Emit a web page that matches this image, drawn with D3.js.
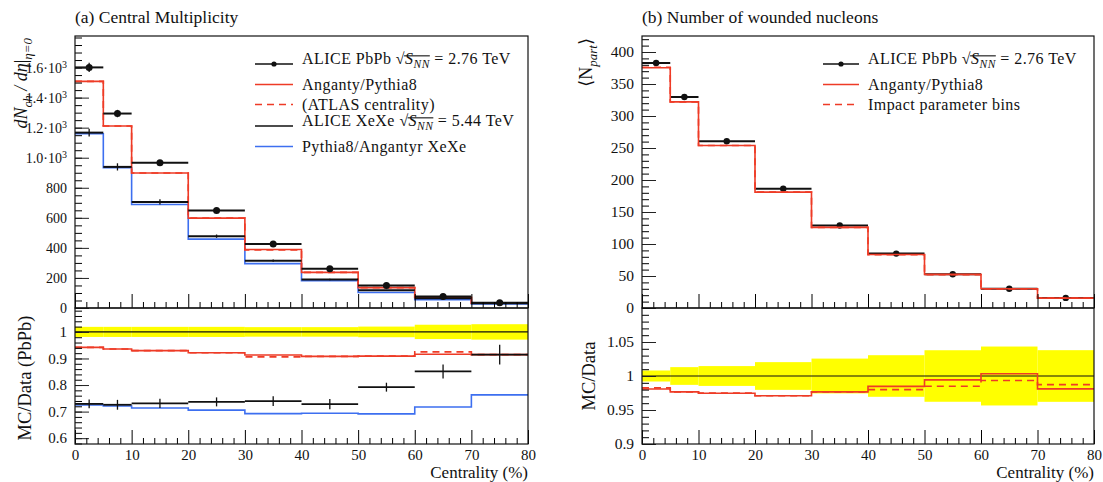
<!DOCTYPE html>
<html>
<head>
<meta charset="utf-8">
<script src="https://d3js.org/d3.v7.min.js"></script>
<style>
body { margin: 0; background: #fff; }
svg text { font-family: "Liberation Serif", "DejaVu Serif", serif; fill: #111; }
</style>
</head>
<body>
<script>
// centrality bins (%)
const binEdges = [0, 5, 10, 20, 30, 40, 50, 60, 70, 80];
const xTickValues = [0, 10, 20, 30, 40, 50, 60, 70, 80];

// (a) charged multiplicity dN/deta
const pbpbMult = [1601, 1294, 966, 649, 426, 261, 149, 76, 35];
const pbpbMultRelErr = [0.019, 0.019, 0.019, 0.019, 0.018, 0.018, 0.02, 0.027, 0.029];
const angMult = [1508, 1211, 898, 598, 389, 237, 135.4, 69.6, 32];
const angMultAtlas = [1508, 1211, 898, 598, 386, 237, 135.4, 70.3, 32];
const xexeMult = [1167, 939, 706, 478, 315, 190, 118, 64.7, 32];
const xexeMultErr = [26, 24, 17, 11, 8, 5, 2.5, 2, 1.3];
const angXeXeMult = [1160, 933, 689, 458, 295, 181, 103, 54.5, 26.7];
const multTicks = [0, 200, 400, 600, 800, 1000, 1200, 1400, 1600];
const ratioTicksA = [0.6, 0.7, 0.8, 0.9, 1];

// (b) number of wounded nucleons
const npartData = [382.8, 329.7, 260.5, 186.4, 128.9, 85.0, 52.8, 30.0, 15.8];
const npartErr = [3.1, 4.3, 3.8, 3.8, 3.3, 2.6, 2.0, 1.3, 0.6];
const npartAng = [375.5, 322.0, 253.9, 181.0, 125.9, 83.7, 52.5, 30.1, 15.5];
const npartImpact = [376.1, 322.0, 254.0, 181.0, 125.9, 83.3, 52.0, 29.8, 15.6];
const npartTicks = [0, 50, 100, 150, 200, 250, 300, 350, 400];
const ratioTicksB = [0.9, 0.95, 1, 1.05];

const RED = "#ee3b26", BLUE = "#3d6ff0", YELLOW = "#ffff00";

const svg = d3.select("body").append("svg")
    .attr("width", 1103).attr("height", 482);

const mainTop = 36, mainBottom = 308, ratioBottom = 444;
const plainNum = v => d3.format("")(+v.toFixed(2));

function centers() {
    return binEdges.slice(0, -1).map((e, i) => (e + binEdges[i + 1]) / 2);
}

function stepPts(vals) {
    const pts = vals.map((v, i) => [binEdges[i], v]);
    pts.push([binEdges[binEdges.length - 1], vals[vals.length - 1]]);
    return pts;
}

function drawStep(g, x, y, vals, color, dash, w) {
    const line = d3.line().curve(d3.curveStepAfter).x(d => x(d[0])).y(d => y(d[1]));
    g.append("path").attr("d", line(stepPts(vals)))
        .attr("fill", "none").attr("stroke", color)
        .attr("stroke-width", w || 1.6)
        .attr("stroke-dasharray", dash || null);
}

function drawBars(g, x, y, vals, errs, color, w, dots) {
    const c = centers();
    vals.forEach((v, i) => {
        g.append("line").attr("x1", x(binEdges[i])).attr("x2", x(binEdges[i + 1]))
            .attr("y1", y(v)).attr("y2", y(v)).attr("stroke", color).attr("stroke-width", w);
        if (errs) {
            g.append("line").attr("x1", x(c[i])).attr("x2", x(c[i]))
                .attr("y1", y(v - errs[i])).attr("y2", y(v + errs[i]))
                .attr("stroke", color).attr("stroke-width", 1.3);
        }
        if (dots) {
            g.append("circle").attr("cx", x(c[i])).attr("cy", y(v)).attr("r", dots).attr("fill", color);
        }
    });
}

function band(g, x, y, relErr) {
    relErr.forEach((r, i) => {
        g.append("rect").attr("x", x(binEdges[i])).attr("width", x(binEdges[i + 1]) - x(binEdges[i]))
            .attr("y", y(1 + r)).attr("height", y(1 - r) - y(1 + r))
            .attr("fill", YELLOW);
    });
    g.append("line").attr("x1", x(0)).attr("x2", x(80)).attr("y1", y(1)).attr("y2", y(1))
        .attr("stroke", "#111").attr("stroke-width", 1.1);
}

function yAxis(g, y, x0, major, minor, fs) {
    g.append("g").attr("transform", `translate(${x0},0)`)
        .call(d3.axisLeft(y).tickValues(minor).tickSize(-7).tickFormat(""))
        .call(s => s.select(".domain").remove());
    const ax = g.append("g").attr("transform", `translate(${x0},0)`)
        .call(d3.axisLeft(y).tickValues(major).tickSize(-14).tickPadding(8).tickFormat(plainNum))
        .call(s => s.select(".domain").remove());
    ax.selectAll("text").attr("font-size", fs).attr("font-family", null);
    ax.selectAll("line").attr("stroke", "#222");
    return ax;
}

function xAxis(g, x, yPos, labels) {
    const minor = d3.range(0, 81, 2).filter(v => v % 10 !== 0);
    g.append("g").attr("transform", `translate(0,${yPos})`)
        .call(d3.axisBottom(x).tickValues(minor).tickSize(-6).tickFormat(""))
        .call(s => s.select(".domain").remove());
    const ax = g.append("g").attr("transform", `translate(0,${yPos})`)
        .call(d3.axisBottom(x).tickValues(xTickValues).tickSize(-14).tickPadding(5)
            .tickFormat(labels ? d3.format("d") : ""))
        .call(s => s.select(".domain").remove());
    ax.selectAll("text").attr("font-size", 15).attr("font-family", null);
}

function frame(g, x0, x1, t, b) {
    g.append("rect").attr("x", x0).attr("y", t).attr("width", x1 - x0).attr("height", b - t)
        .attr("fill", "none").attr("stroke", "#111").attr("stroke-width", 1.2);
}

// text with italics / subscripts; returns char index ranges for marked parts
function rich(t, parts, fs) {
    let shift = 0, idx = 0;
    const marks = {};
    parts.forEach(p => {
        const target = p.sub ? fs * 0.28 : 0;
        const ts = t.append("tspan").text(p.t).attr("dy", target - shift);
        shift = target;
        if (p.sub) ts.attr("font-size", fs * 0.72);
        if (p.i) ts.attr("font-style", "italic");
        if (p.mark) marks[p.mark] = [idx, idx + p.t.length - 1];
        idx += p.t.length;
    });
    return marks;
}

function sqrtLabel(g, x, y, pre, energy, fs) {
    const t = g.append("text").attr("x", x).attr("y", y).attr("font-size", fs)
        .attr("dy", "0.35em").attr("letter-spacing", 0.45);
    const m = rich(t, [
        { t: pre + " " },
        { t: "\u221A", mark: "rad" },
        { t: "S", i: true },
        { t: "NN", i: true, sub: true, mark: "nn" },
        { t: " = " + energy + " TeV" }
    ], fs);
    const n = t.node();
    const a = n.getEndPositionOfChar(m.rad[1]);
    const b = n.getEndPositionOfChar(m.nn[1]);
    const top = y + 0.35 * fs - 0.86 * fs;
    g.append("line").attr("x1", a.x - 1).attr("x2", b.x).attr("y1", top).attr("y2", top)
        .attr("stroke", "#111").attr("stroke-width", 1.1);
}

function legendSym(g, x1, x2, y, color, dash, dot) {
    g.append("line").attr("x1", x1).attr("x2", x2).attr("y1", y).attr("y2", y)
        .attr("stroke", color).attr("stroke-width", dot ? 1.6 : 1.4).attr("stroke-dasharray", dash || null);
    if (dot) g.append("circle").attr("cx", (x1 + x2) / 2).attr("cy", y).attr("r", 2.6).attr("fill", color);
}

function legendText(g, x, y, s, fs) {
    g.append("text").attr("x", x).attr("y", y).attr("dy", "0.35em")
        .attr("letter-spacing", 0.45).attr("font-size", fs).text(s);
}

function vLabel(g, x, yPos, parts, fs, anchor) {
    const t = g.append("text").attr("transform", `translate(${x},${yPos}) rotate(-90)`)
        .attr("text-anchor", anchor || "end").attr("font-size", fs);
    rich(t, parts, fs);
}

// ---------------- panel (a) ----------------
{
    const x0 = 75, x1 = 528;
    const g = svg.append("g");
    const x = d3.scaleLinear().domain([0, 80]).range([x0, x1]);
    const y = d3.scaleLinear().domain([0, 1810]).range([mainBottom, mainTop]);
    const yr = d3.scaleLinear().domain([0.578, 1.09]).range([ratioBottom, mainBottom]);

    g.append("text").attr("x", x0).attr("y", 23).attr("font-size", 17.5).text("(a) Central Multiplicity");

    drawStep(g, x, y, angXeXeMult, BLUE);
    drawStep(g, x, y, angMult, RED);
    drawStep(g, x, y, angMultAtlas, RED, "7,5");
    drawBars(g, x, y, xexeMult, xexeMultErr, "#111", 2);
    drawBars(g, x, y, pbpbMult, pbpbMult.map((v, i) => v * pbpbMultRelErr[i]), "#111", 2, 3.5);

    const ay = yAxis(g, y, x0, multTicks, d3.range(0, 1801, 50), 14);
    ay.selectAll("text").each(function (d) {
        if (d >= 1000) {
            const t = d3.select(this).text(null);
            t.append("tspan").text((d / 1000).toFixed(1) + "\u00B710");
            t.append("tspan").attr("dy", "-0.45em").attr("font-size", 10).text("3");
        }
    });
    xAxis(g, x, mainBottom, false);

    // ratio
    band(g, x, yr, pbpbMultRelErr);
    drawStep(g, x, yr, angXeXeMult.map((v, i) => v / pbpbMult[i]), BLUE);
    drawStep(g, x, yr, angMult.map((v, i) => v / pbpbMult[i]), RED);
    drawStep(g, x, yr, angMultAtlas.map((v, i) => v / pbpbMult[i]), RED, "7,5");
    drawBars(g, x, yr, xexeMult.map((v, i) => v / pbpbMult[i]),
        xexeMultErr.map((e, i) => e / pbpbMult[i]), "#111", 1.8);
    yAxis(g, yr, x0, ratioTicksA, d3.range(0.58, 1.09, 0.02), 15);
    xAxis(g, x, ratioBottom, true);

    frame(g, x0, x1, mainTop, mainBottom);
    frame(g, x0, x1, mainBottom, ratioBottom);

    vLabel(g, 27, 38, [
        { t: "dN", i: true }, { t: "ch", i: true, sub: true },
        { t: " / d", i: true }, { t: "\u03B7", i: true }, { t: "|" },
        { t: "\u03B7=0", i: true, sub: true }
    ], 18);
    vLabel(g, 31, 378, [{ t: "MC/Data (PbPb)" }], 18.5, "middle");
    g.append("text").attr("x", x1).attr("y", 478).attr("text-anchor", "end")
        .attr("font-size", 17).text("Centrality (%)");

    // legend
    const lx1 = 255, lx2 = 293, tx = 302, fs = 16;
    legendSym(g, lx1, lx2, 64, "#111", null, true);
    sqrtLabel(g, tx, 64, "ALICE PbPb", "2.76", fs);
    legendSym(g, lx1, lx2, 84.5, RED);
    legendText(g, tx, 84.5, "Anganty/Pythia8", fs);
    legendSym(g, lx1, lx2, 104.5, RED, "7,5");
    legendText(g, tx, 104.5, "(ATLAS centrality)", fs);
    legendSym(g, lx1, lx2, 126, "#111");
    sqrtLabel(g, tx, 126, "ALICE XeXe", "5.44", fs);
    legendSym(g, lx1, lx2, 146.5, BLUE);
    legendText(g, tx, 146.5, "Pythia8/Angantyr XeXe", fs);
}

// ---------------- panel (b) ----------------
{
    const x0 = 642, x1 = 1094;
    const g = svg.append("g");
    const x = d3.scaleLinear().domain([0, 80]).range([x0, x1]);
    const y = d3.scaleLinear().domain([0, 425]).range([mainBottom, mainTop]);
    const yr = d3.scaleLinear().domain([0.9, 1.1]).range([ratioBottom, mainBottom]);

    g.append("text").attr("x", x0).attr("y", 23).attr("font-size", 17.5).text("(b) Number of wounded nucleons");

    drawBars(g, x, y, npartData, npartErr, "#111", 2, 3.2);
    drawStep(g, x, y, npartAng, RED);
    drawStep(g, x, y, npartImpact, RED, "7,5");

    yAxis(g, y, x0, npartTicks, d3.range(0, 421, 10), 15.5);
    xAxis(g, x, mainBottom, false);

    band(g, x, yr, npartErr.map((e, i) => e / npartData[i]));
    drawStep(g, x, yr, npartAng.map((v, i) => v / npartData[i]), RED);
    drawStep(g, x, yr, npartImpact.map((v, i) => v / npartData[i]), RED, "7,5");
    yAxis(g, yr, x0, ratioTicksB, d3.range(0.9, 1.1, 0.01), 15.5);
    xAxis(g, x, ratioBottom, true);

    frame(g, x0, x1, mainTop, mainBottom);
    frame(g, x0, x1, mainBottom, ratioBottom);

    vLabel(g, 592, 38, [{ t: "\u27E8N" }, { t: "part", i: true, sub: true }, { t: "\u27E9" }], 18);
    vLabel(g, 595, 376, [{ t: "MC/Data" }], 18.5, "middle");
    g.append("text").attr("x", x1).attr("y", 478).attr("text-anchor", "end")
        .attr("font-size", 17).text("Centrality (%)");

    const lx1 = 823, lx2 = 859, tx = 868, fs = 16;
    legendSym(g, lx1, lx2, 64, "#111", null, true);
    sqrtLabel(g, tx, 64, "ALICE PbPb", "2.76", fs);
    legendSym(g, lx1, lx2, 84.5, RED);
    legendText(g, tx, 84.5, "Anganty/Pythia8", fs);
    legendSym(g, lx1, lx2, 104.5, RED, "7,5");
    legendText(g, tx, 104.5, "Impact parameter bins", fs);
}
</script>
</body>
</html>
